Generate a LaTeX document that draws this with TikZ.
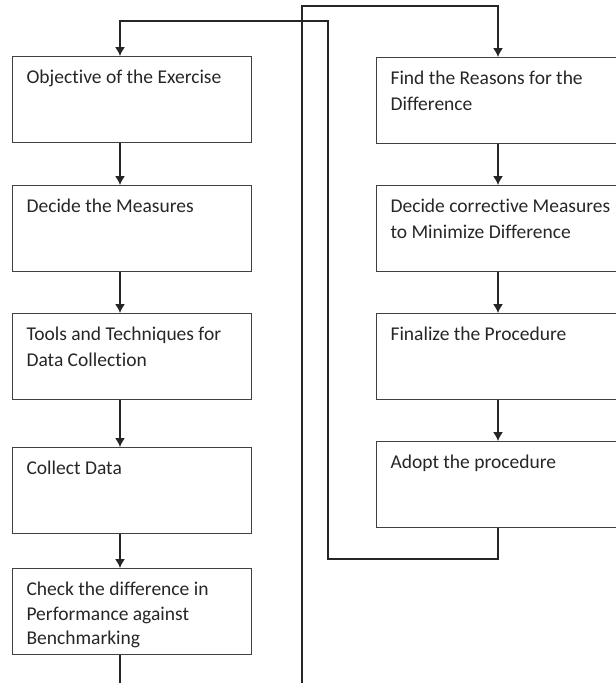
\documentclass[tikz,border=0pt]{standalone}
\usepackage{fontspec}
\setmainfont{Carlito}[Ligatures=NoCommon]
\usetikzlibrary{positioning, arrows.meta}

\newcommand{\stepfont}{\fontsize{19.5}{26}\selectfont}
\newcommand{\leftstep}[1]{\parbox[c][68.4pt][t]{211pt}{\raggedright\strut #1}}
\newcommand{\rightstep}[1]{\parbox[c][68.4pt][t]{226pt}{\raggedright\strut #1}}

\begin{document}
\begin{tikzpicture}[
  x=1pt, y=-1pt,
  stepbox/.style={draw=black!75, line width=1.1pt, anchor=north west, inner xsep=14pt, inner ysep=8.8pt, font=\stepfont, text=black!85},
  flowline/.style={draw=black!85, line width=1.3pt},
  flowarrow/.style={flowline, -{Latex[length=9pt, width=10pt]}}
]
  \clip (0,0) rectangle (616,683);

  % left column
  \node[stepbox] (obj) at (12,56) {\leftstep{Objective of the Exercise}};
  \node[stepbox] (decide) at (12,185) {\leftstep{Decide the Measures}};
  \node[stepbox] (tools) at (12,313) {\leftstep{Tools and Techniques for\\ Data Collection}};
  \node[stepbox] (collect) at (12,447) {\leftstep{Collect Data}};
  \node[stepbox] (check) at (12,568) {\leftstep{\fontsize{19.5}{24.5}\selectfont Check the difference in\\ Performance against\\ Benchmarking}};

  % right column
  \node[stepbox] (reasons) at (376,57) {\rightstep{Find the Reasons for the\\ Difference}};
  \node[stepbox] (corrective) at (376,185) {\rightstep{Decide corrective Measures\\ to Minimize Difference}};
  \node[stepbox] (finalize) at (376,313) {\rightstep{Finalize the Procedure}};
  \node[stepbox] (adopt) at (376,441) {\rightstep{Adopt the procedure}};

  % connector positions
  \coordinate (lx) at (120,0);
  \coordinate (rx) at (498,0);
  \coordinate (backbottom) at (328,559);
  \coordinate (backtop) at (328,21);
  \coordinate (feedbottom) at (302,690);
  \coordinate (feedtop) at (302,6);
  \coordinate (leftend) at (120,690);

  \draw[flowarrow] (obj.south -| lx) -- (decide.north -| lx);
  \draw[flowarrow] (decide.south -| lx) -- (tools.north -| lx);
  \draw[flowarrow] (tools.south -| lx) -- (collect.north -| lx);
  \draw[flowarrow] (collect.south -| lx) -- (check.north -| lx);
  \draw[flowline] (check.south -| lx) -- (leftend);

  \draw[flowarrow] (reasons.south -| rx) -- (corrective.north -| rx);
  \draw[flowarrow] (corrective.south -| rx) -- (finalize.north -| rx);
  \draw[flowarrow] (finalize.south -| rx) -- (adopt.north -| rx);

  % loops back to the top
  \draw[flowarrow] (adopt.south -| rx) |- (backbottom) -- (backtop) -| (obj.north -| lx);
  \draw[flowarrow] (feedbottom) -- (feedtop) -| (reasons.north -| rx);
\end{tikzpicture}
\end{document}
